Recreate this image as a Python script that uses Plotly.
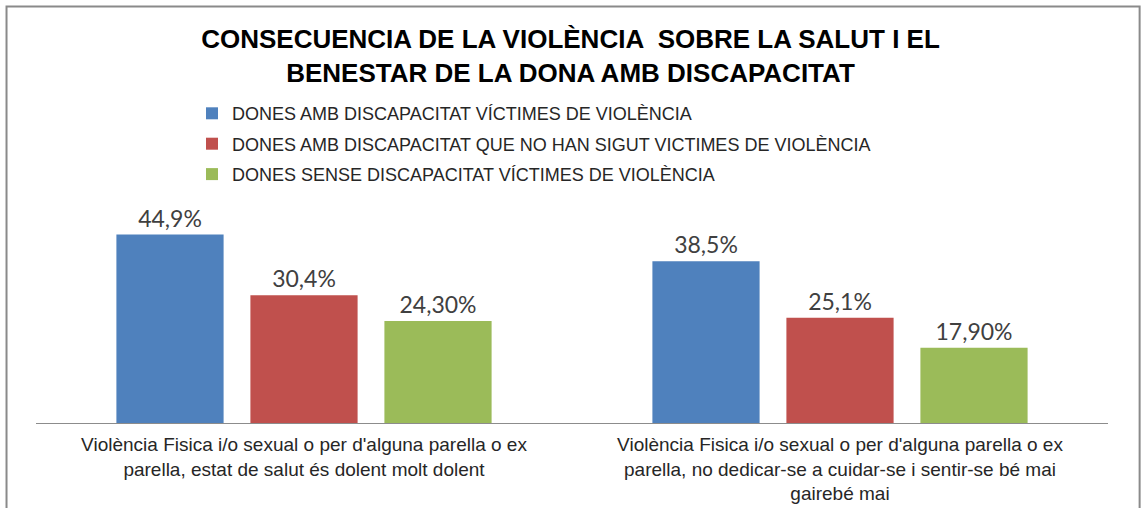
import plotly.graph_objects as go

categories = [
    "Violència Fisica i/o sexual o per d'alguna parella o ex<br>parella, estat de salut és dolent molt dolent",
    "Violència Fisica i/o sexual o per d'alguna parella o ex<br>parella, no dedicar-se a cuidar-se i sentir-se bé mai<br>gairebé mai",
]
series_names = [
    "DONES AMB DISCAPACITAT VÍCTIMES DE VIOLÈNCIA",
    "DONES AMB DISCAPACITAT QUE NO HAN SIGUT VICTIMES DE VIOLÈNCIA",
    "DONES SENSE DISCAPACITAT VÍCTIMES DE VIOLÈNCIA",
]
values = [
    [44.9, 38.5],
    [30.4, 25.1],
    [24.3, 17.9],
]
value_labels = [
    ["44,9%", "38,5%"],
    ["30,4%", "25,1%"],
    ["24,30%", "17,90%"],
]
colors = ["#4F81BD", "#C0504D", "#9BBB59"]

fig = go.Figure()
for i, name in enumerate(series_names):
    fig.add_trace(go.Bar(
        x=categories, y=values[i], name=name,
        marker=dict(color=colors[i], line=dict(width=0)),
        text=value_labels[i], textposition="outside",
        textfont=dict(family="Lato, Open Sans, sans-serif", size=23, color="#404040"),
        cliponaxis=False, legendgroup=str(i),
    ))

fig.update_layout(
    width=1141, height=508,
    margin=dict(l=36, r=33, t=190, b=85, autoexpand=False),
    paper_bgcolor="white", plot_bgcolor="white",
    barmode="group", bargap=0.25, bargroupgap=0.2,
    title=dict(
        text="<b>CONSECUENCIA DE LA VIOLÈNCIA  SOBRE LA SALUT I EL<br>BENESTAR DE LA DONA AMB DISCAPACITAT</b>",
        x=0.5, xanchor="center", y=0.905, yanchor="middle",
        font=dict(family="Liberation Sans, Arial, sans-serif", size=26, color="black"),
    ),
    legend=dict(
        x=0.1455, y=1.197, xanchor="left", yanchor="middle",
        font=dict(family="Liberation Sans, Arial, sans-serif", size=18, color="#262626"),
        tracegroupgap=4, itemwidth=30, bgcolor="rgba(0,0,0,0)",
    ),
    xaxis=dict(
        showline=True, linecolor="#8c8c8c", linewidth=1, ticks="",
        ticklabelstandoff=4, automargin=False,
        tickfont=dict(family="Liberation Sans, Arial, sans-serif", size=19, color="#262626"),
    ),
    yaxis=dict(range=[0, 55.5], visible=False, showgrid=False),
    shapes=[dict(
        type="rect", xref="paper", yref="paper",
        x0=-0.0275, x1=1.0295, y0=-0.4, y1=1.788,
        line=dict(color="#8a8a8a", width=2), fillcolor="rgba(0,0,0,0)", layer="below",
    )],
)

fig.write_html("out.html", config={"displayModeBar": False},
               post_script="document.body.style.margin='0';")
